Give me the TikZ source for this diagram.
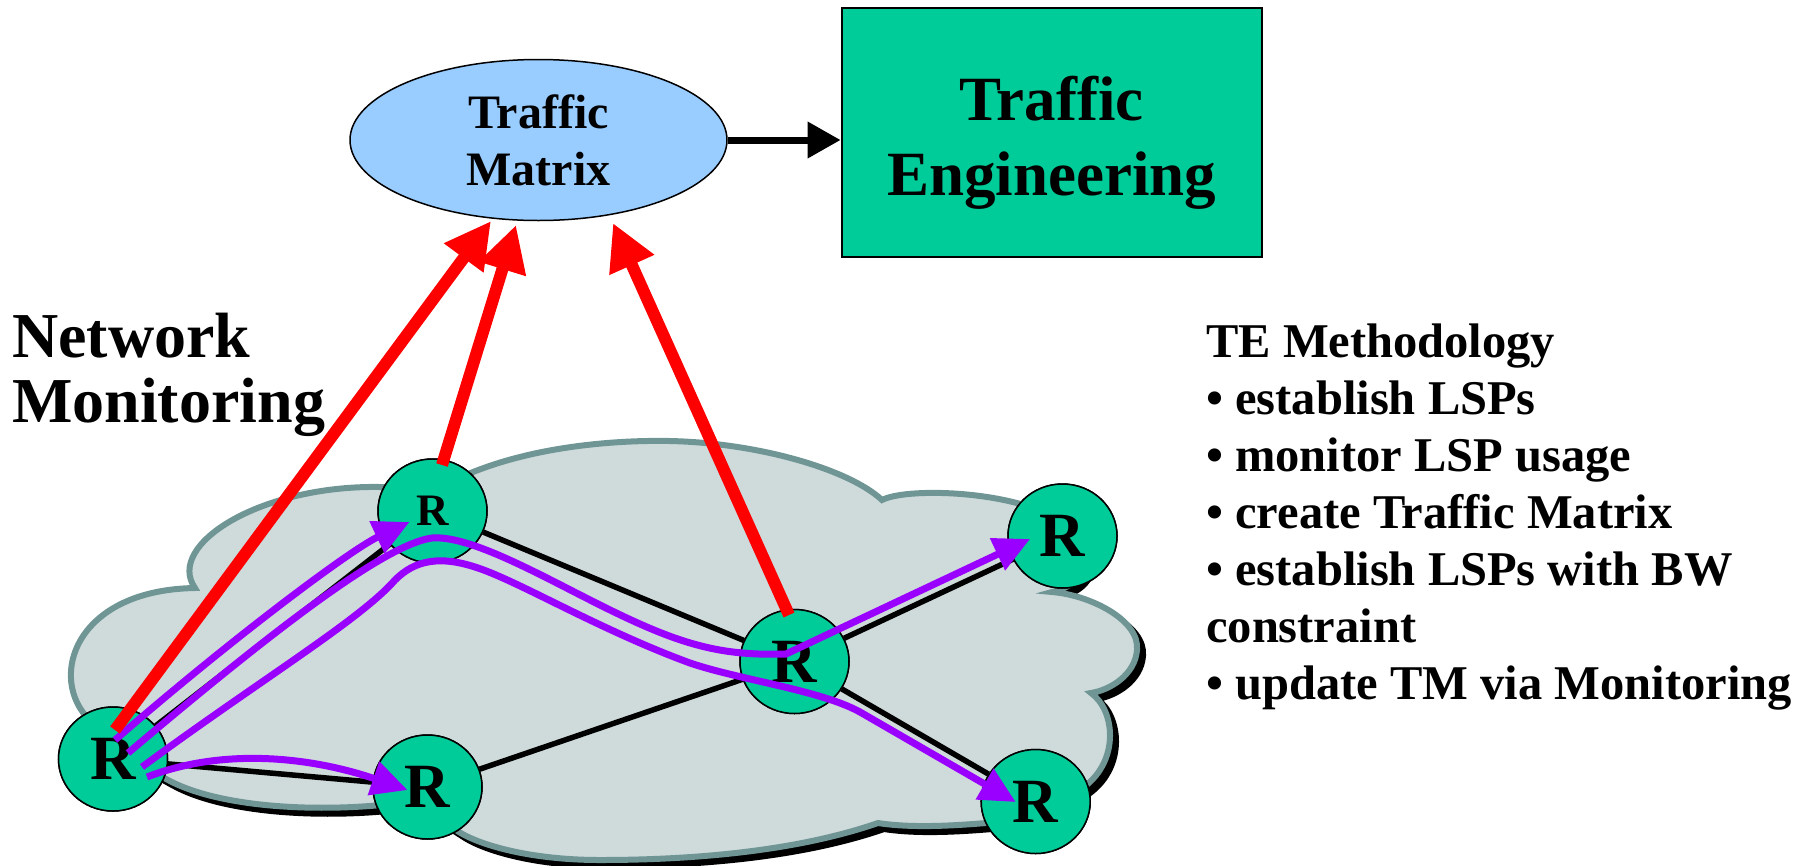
\documentclass[tikz,border=0pt]{standalone}
\usepackage{fontspec}
\setmainfont{Liberation Serif}
\usetikzlibrary{arrows.meta,calc,shapes.geometric}
\definecolor{teal0}{HTML}{00CC99}
\definecolor{tmblue}{HTML}{99CCFF}
\definecolor{cloudfill}{HTML}{CFDADB}
\definecolor{cloudedge}{HTML}{6F9595}
\definecolor{lsp}{HTML}{9900FF}
\def\cloudpath{(95,725)
 .. controls (45,685) and (70,590) .. (195,588)
 .. controls (165,545) and (260,485) .. (380,487)
 .. controls (410,487) and (430,486) .. (445,485)
 .. controls (520,445) and (620,440) .. (670,441)
 .. controls (760,443) and (850,470) .. (882,500)
 .. controls (905,488) and (1000,490) .. (1050,515)
 .. controls (1095,540) and (1100,580) .. (1052,592)
 .. controls (1090,595) and (1140,620) .. (1137,650)
 .. controls (1135,675) and (1110,690) .. (1091,693)
 .. controls (1115,710) and (1120,760) .. (1084,787)
 .. controls (1060,810) and (1020,822) .. (986,823)
 .. controls (950,826) and (910,828) .. (878,823)
 .. controls (800,850) and (700,860) .. (600,860)
 .. controls (530,860) and (480,845) .. (459,832)
 .. controls (440,820) and (420,805) .. (400,803)
 .. controls (320,813) and (220,808) .. (168,780)
 .. controls (140,765) and (110,745) .. (95,725) -- cycle}
\begin{document}
\begin{tikzpicture}[x=1pt,y=-1pt,
  router/.style={ellipse, draw=black, line width=1.5pt, fill=teal0,
    minimum width=109pt, minimum height=104pt, inner sep=0pt,
    font=\bfseries\fontsize{63}{63}\selectfont},
  smallrouter/.style={router, font=\bfseries\fontsize{45}{45}\selectfont},
  link/.style={draw=black, line width=5.5pt},
  lspline/.style={draw=lsp, line width=7pt, -{Triangle[length=36pt,width=34pt]}},
  monitor/.style={draw=red, line width=12pt, -{Triangle[length=46pt,width=46pt]}},
  flow/.style={draw=black, line width=7pt, -{Triangle[length=33pt,width=35pt]}},
  label/.style={inner sep=0pt, anchor=base west},
  bigtext/.style={label, font=\bfseries\fontsize{64}{64}\selectfont},
  listtext/.style={label, font=\bfseries\fontsize{48.5}{57}\selectfont}]
\useasboundingbox (0,0) rectangle (1795,865);
% cloud with its shadow
\fill[black, shift={(6,6)}] \cloudpath;
\draw[black, line width=6pt, shift={(6,6)}] \cloudpath;
\path[fill=cloudfill, draw=cloudedge, line width=6pt] \cloudpath;
% routers (positions)
\node[router] (r1) at (113,759) {R};
\node[smallrouter] (r2) at (432.5,511) {R};
\node[router] (r3) at (427.5,787) {R};
\node[router] (r4) at (794.5,661.5) {R};
\node[router] (r5) at (1062.5,536) {R};
\node[router] (r6) at (1035.7,801.5) {R};
% links
\draw[link] (r1) -- (r2);
\draw[link] (r1) -- (r3);
\draw[link] (r2) -- (r4);
\draw[link] (r3) -- (r4);
\draw[link] (r4) -- (r5);
\draw[link] (r4) -- (r6);
% routers drawn again over the links
\node[router] at (r1) {R};
\node[smallrouter] at (r2) {R};
\node[router] at (r3) {R};
\node[router] at (r4) {R};
\node[router] at (r5) {R};
\node[router] at (r6) {R};
% LSPs
\draw[lspline] ($(r1)+(2,-19)$) .. controls (230,640) and (350,550) .. ($(r2)+(-23,11)$);
\draw[lspline] ($(r1)+(15,-6)$) .. controls (250,650) and (380,545) .. (432,538)
  .. controls (470,535) and (540,575) .. (600,605)
  .. controls (680,645) and (720,656) .. (786,654) -- ($(r5)+(-32.5,3)$);
\draw[lspline] ($(r1)+(29,8)$) .. controls (260,680) and (360,620) .. (395,580)
  .. controls (415,560) and (440,555) .. (478,568)
  .. controls (520,582) and (600,630) .. (690,663)
  .. controls (740,680) and (820,690) .. (860,712) -- ($(r6)+(-20,0.5)$);
\draw[lspline] ($(r1)+(34,18)$) .. controls (230,745) and (320,760) .. ($(r3)+(-20,3)$);
% top
\node[ellipse, draw=black, line width=1.5pt, fill=tmblue, minimum width=377pt,
  minimum height=161pt, inner sep=0pt, align=center,
  font=\bfseries\fontsize{48}{57}\selectfont] (tm) at (538.5,140) {Traffic\\Matrix};
\node[rectangle, draw=black, line width=2pt, fill=teal0, minimum width=420pt,
  minimum height=249pt, inner sep=0pt, align=center,
  font=\bfseries\fontsize{63}{75}\selectfont] (te) at (1051.6,132.5)
  {\rule{0pt}{64pt}Traffic\\Engineering};
\draw[flow] (tm.east) -- (tm.east -| te.west);
% monitoring arrows
\draw[monitor] ($(r1)+(2,-29)$) -- ($(tm)+(-47.5,81)$);
\draw[monitor] ($(r2)+(9.5,-46)$) -- ($(tm)+(-22.5,85)$);
\draw[monitor] ($(r4)+(-5.5,-46.5)$) -- ($(tm)+(74.5,83)$);
% texts
\node[bigtext] (nm1) at (12,357) {Network};
\node[bigtext] (nm2) at (12,422) {Monitoring};
\node[listtext] (l0) at (1206,357.3) {TE Methodology};
\node[listtext] (l1) at (1206,414.4) {• establish LSPs};
\node[listtext] (l2) at (1206,471.5) {• monitor LSP usage};
\node[listtext] (l3) at (1206,528.6) {• create Traffic Matrix};
\node[listtext] (l4) at (1206,585.7) {• establish LSPs with BW};
\node[listtext] (l5) at (1206,642.8) {constraint};
\node[listtext] (l6) at (1206,699.9) {• update TM via Monitoring};
\end{tikzpicture}
\end{document}
